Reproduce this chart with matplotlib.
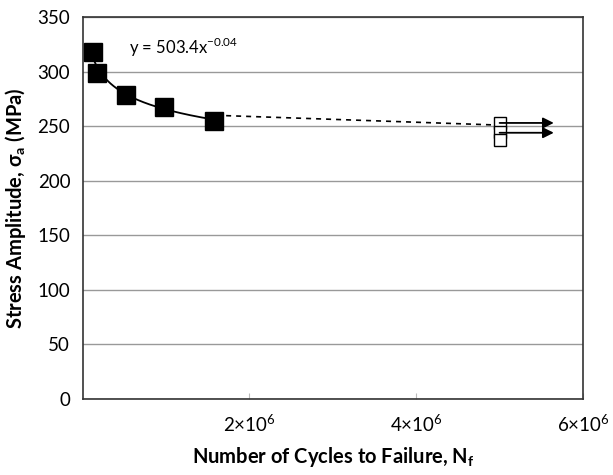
import matplotlib.pyplot as plt
import numpy as np

# data
cycles = [1.2e5, 1.7e5, 5.2e5, 9.8e5, 1.58e6]
stress = [318, 299, 279, 268, 255]

runout_cycles = [5.0e6, 5.0e6, 5.0e6]
runout_stress = [253, 245, 237]
arrow_stress = [253, 244]
arrow_end = 5.65e6

dash_x = [1.6e6, 5.0e6]
dash_y = [260, 251]

plt.rcParams['font.family'] = ['Lato', 'DejaVu Sans']
plt.rcParams['mathtext.fontset'] = 'custom'
plt.rcParams['mathtext.rm'] = 'Lato'
plt.rcParams['mathtext.bf'] = 'Lato:bold'

fig = plt.figure(figsize=(6.13, 4.75), dpi=100)
ax = fig.add_axes([0.135, 0.16, 0.816, 0.804])

# power-law trend through the failed points
b, loga = np.polyfit(np.log(cycles), np.log(stress), 1)
xs = np.linspace(min(cycles), max(cycles), 200)
ax.plot(xs, np.exp(loga) * xs ** b, color='black', lw=1.3, zorder=3)

ax.plot(dash_x, dash_y, color='black', lw=1.2, ls=(0, (3, 3)), zorder=3)

ax.plot(cycles, stress, 's', color='black', ms=13, zorder=4)
ax.plot(runout_cycles, runout_stress, 's', mfc='white', mec='black', ms=8.5, mew=1.0, zorder=4)

for s in arrow_stress:
    ax.annotate('', xy=(arrow_end, s), xytext=(runout_cycles[0], s),
                arrowprops=dict(arrowstyle='-|>', color='black', lw=1.3,
                                mutation_scale=16, shrinkA=0, shrinkB=0), zorder=5)

ax.text(0.55e6, 322, 'y = 503.4x$^{-0.04}$', fontsize=12, va='center')

ax.set_xlim(0, 6e6)
ax.set_ylim(0, 350)
ax.set_yticks(range(0, 351, 50))
ax.set_xticks([2e6, 4e6, 6e6])
ax.set_xticklabels(['2×10$^6$', '4×10$^6$', '6×10$^6$'])
ax.yaxis.grid(True, color='#999999', lw=1.0)
ax.set_axisbelow(True)
ax.tick_params(axis='y', length=0, labelsize=13.5, pad=9)
ax.tick_params(axis='x', direction='in', length=4, color='#bbbbbb', labelsize=13.5, pad=10)
for sp in ax.spines.values():
    sp.set_color('#333333')
    sp.set_linewidth(1.2)

ax.set_ylabel('Stress Amplitude, σ$_\\mathbf{a}$ (MPa)', fontsize=14.5, fontweight='bold', labelpad=7)
ax.set_xlabel('Number of Cycles to Failure, N$_\\mathbf{f}$', fontsize=14.5, fontweight='bold', labelpad=7)

fig.savefig('out.png', dpi=100)
